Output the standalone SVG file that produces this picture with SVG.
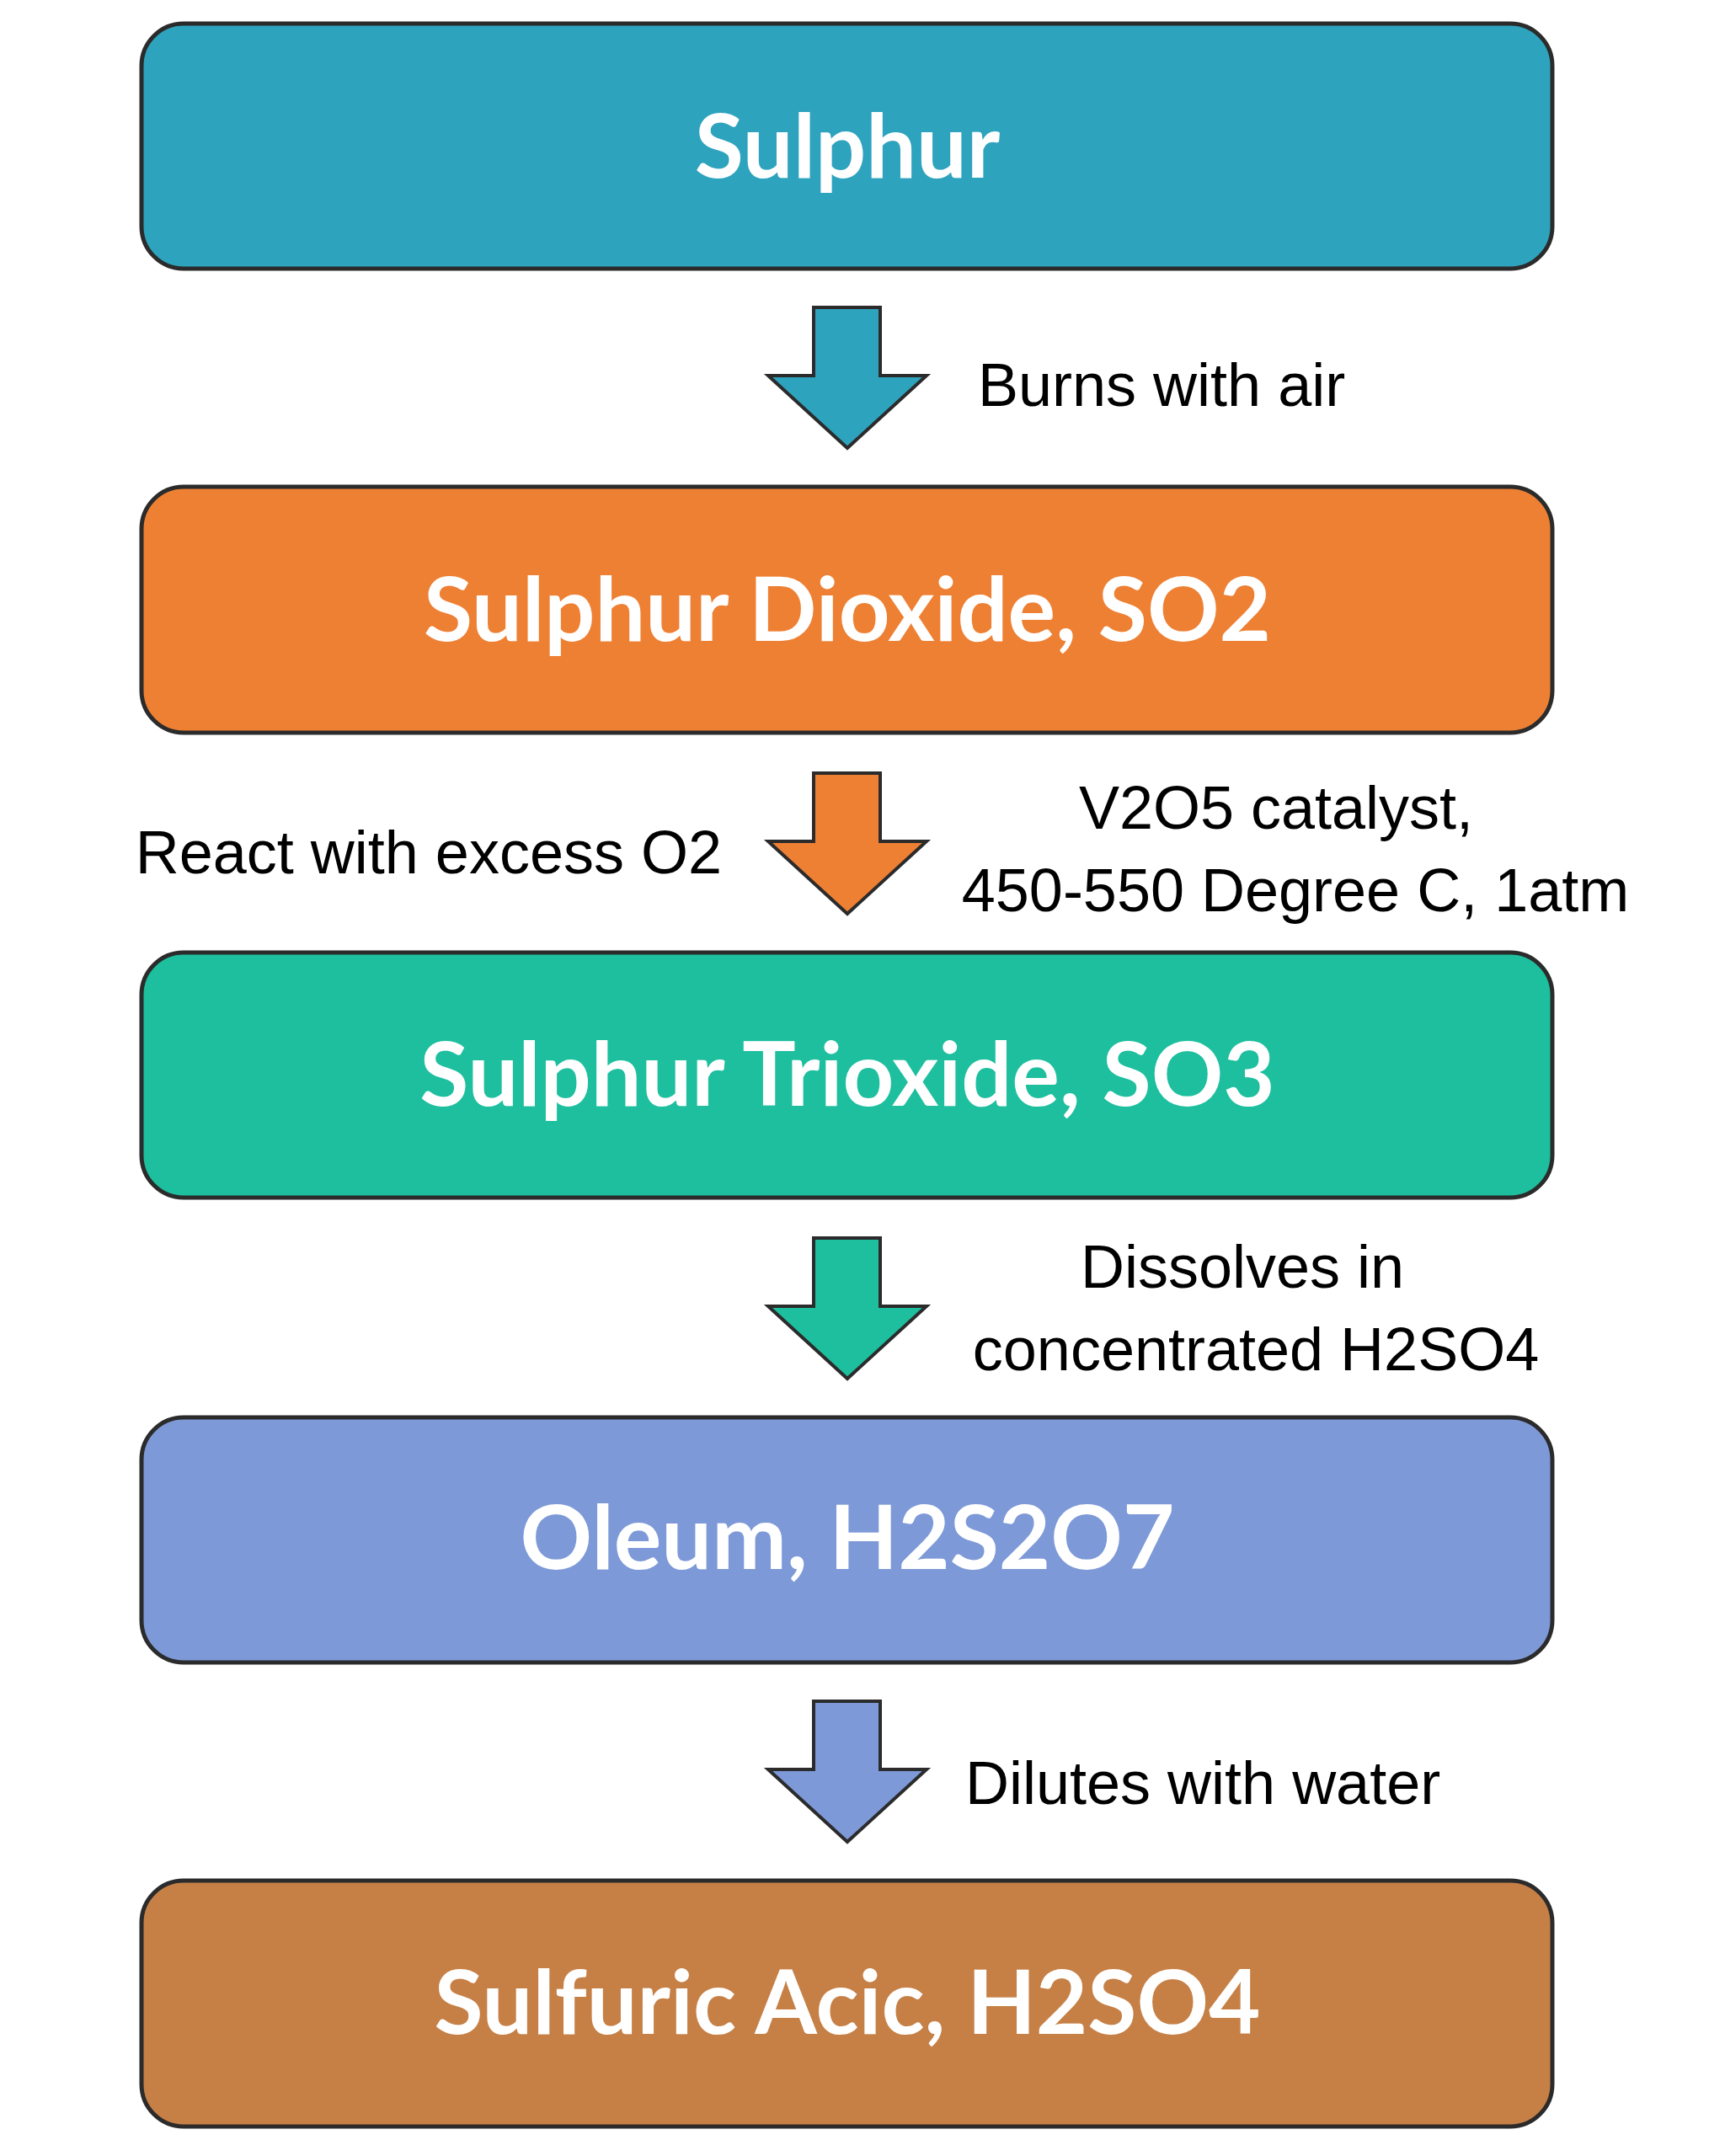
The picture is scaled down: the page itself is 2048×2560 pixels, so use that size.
<svg xmlns="http://www.w3.org/2000/svg" width="2048" height="2560" viewBox="0 0 2048 2560">
<style>
.box{stroke:#2b2b2b;stroke-width:5}
.bt{font-family:Lato,"Noto Sans",sans-serif;font-weight:bold;font-size:106px;fill:#fff;text-anchor:middle}
.lb{font-family:"Liberation Sans",Arial,sans-serif;font-size:72px;fill:#000}
.ar{stroke:#2b2b2b;stroke-width:4;stroke-linejoin:miter}
</style>
<defs><path id="arr" d="M966 0H1045V81H1100L1006 167L912 81H966Z"/></defs>
<rect width="2048" height="2560" fill="#fff"/>
<g id="n1"><rect class="box" x="168" y="28" width="1675" height="291" rx="50" fill="#2EA3BE"/><text class="bt" x="1006" y="211">Sulphur</text></g>
<g id="n2"><rect class="box" x="168" y="578" width="1675" height="292" rx="50" fill="#EE8034"/><text class="bt" x="1006" y="761">Sulphur Dioxide, SO2</text></g>
<g id="n3"><rect class="box" x="168" y="1131" width="1675" height="291" rx="50" fill="#1DBF9E"/><text class="bt" x="1006" y="1313">Sulphur Trioxide, SO3</text></g>
<g id="n4"><rect class="box" x="168" y="1683" width="1675" height="291" rx="50" fill="#7D99D8"/><text class="bt" x="1006" y="1863">Oleum, H2S2O7</text></g>
<g id="n5"><rect class="box" x="168" y="2233" width="1675" height="292" rx="50" fill="#C68046"/><text class="bt" x="1006" y="2415">Sulfuric Acic, H2SO4</text></g>
<g id="connectors">
<use href="#arr" class="ar" y="365" fill="#2EA3BE"/>
<use href="#arr" class="ar" y="918" fill="#EE8034"/>
<use href="#arr" class="ar" y="1470" fill="#1DBF9E"/>
<use href="#arr" class="ar" y="2020" fill="#7D99D8"/>
<text class="lb" x="1161" y="482">Burns with air</text>
<text class="lb" x="857" y="1037" text-anchor="end">React with excess O2</text>
<text class="lb" x="1515" y="984" text-anchor="middle">V2O5 catalyst,</text>
<text class="lb" x="1538" y="1082" text-anchor="middle">450-550 Degree C, 1atm</text>
<text class="lb" x="1475" y="1529" text-anchor="middle">Dissolves in</text>
<text class="lb" x="1491" y="1627" text-anchor="middle">concentrated H2SO4</text>
<text class="lb" x="1146" y="2142">Dilutes with water</text>
</g>
</svg>
